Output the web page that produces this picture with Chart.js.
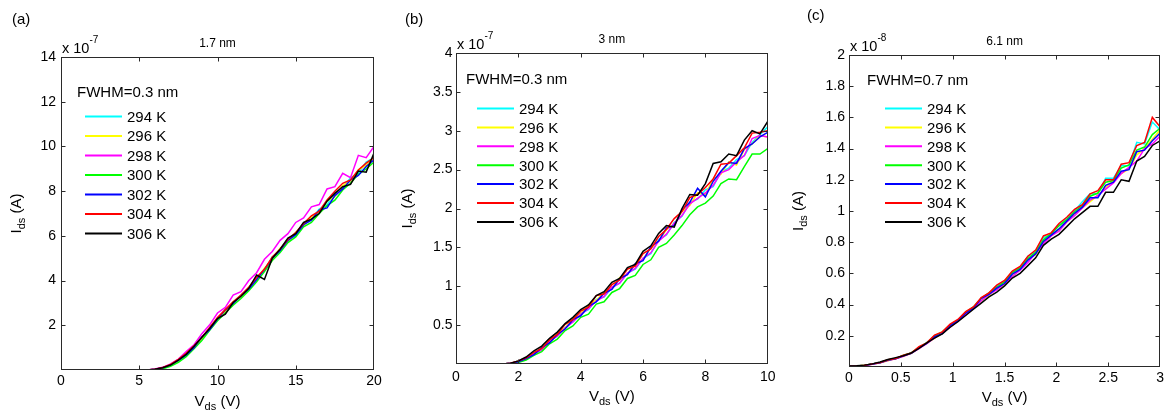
<!DOCTYPE html>
<html>
<head>
<meta charset="utf-8">
<script src="https://cdn.jsdelivr.net/npm/chart.js@4.4.0/dist/chart.umd.min.js"></script>
<style>
body{margin:0;background:#fff;width:1167px;height:411px;position:relative;overflow:hidden}
canvas{position:absolute;top:0}
</style>
</head>
<body>
<canvas id="chartA" width="390" height="411" style="left:0px"></canvas>
<canvas id="chartB" width="390" height="411" style="left:390px"></canvas>
<canvas id="chartC" width="387" height="411" style="left:780px"></canvas>
<script>
// temperaturas e cores (ordem do matlab)
const temps = ['294 K', '296 K', '298 K', '300 K', '302 K', '304 K', '306 K'];
const cores = ['#00ffff', '#ffff00', '#ff00ff', '#00ff00', '#0000ff', '#ff0000', '#000000'];

// (a) 1.7 nm  -- Ids em 1e-7 A
const xA = [0,0.5,1,1.5,2,2.5,3,3.5,4,4.5,5,5.5,6,6.5,7,7.5,8,8.5,9,9.5,10,10.5,11,11.5,12,12.5,13,13.5,14,14.5,15,15.5,16,16.5,17,17.5,18,18.5,19,19.5,20];
const a294 = [0,0,0,0,0,0,0,0,0,0,0, 0,0.02,0.08,0.2,0.4,0.66,1.02,1.4,1.88,2.25, 2.7,2.95,3.35,3.6,4.15,4.45,5.05,5.3,5.85,6.0, 6.55,6.75,7.2,7.4,7.9,8.15,8.6,8.8,9.3,9.5];
const a296 = [0,0,0,0,0,0,0,0,0,0,0, 0,0.03,0.09,0.21,0.41,0.69,1.04,1.42,1.83,2.32, 2.62,3.05,3.28,3.7,4.05,4.55,4.95,5.45,5.75,6.15, 6.45,6.85,7.05,7.55,7.75,8.25,8.45,8.95,9.15,9.55];
const a298 = [0,0,0,0,0,0,0,0,0,0,0, 0,0.04,0.12,0.27,0.49,0.82,1.13,1.62,2.02,2.55, 2.8,3.35,3.5,4.0,4.35,4.95,5.3,5.8,6.1,6.6, 6.8,7.3,7.4,8.1,8.2,8.8,8.6,9.6,9.5,10.0];
const a300 = [0,0,0,0,0,0,0,0,0,0,0, 0,0.01,0.06,0.16,0.34,0.6,0.95,1.32,1.78,2.2, 2.55,2.9,3.2,3.55,3.95,4.4,4.9,5.25,5.7,5.95, 6.4,6.6,7.0,7.35,7.6,8.05,8.35,8.75,9.0,9.3];
const a302 = [0,0,0,0,0,0,0,0,0,0,0, 0,0.03,0.1,0.23,0.43,0.68,1.0,1.48,1.8,2.28, 2.68,2.98,3.32,3.62,4.05,4.5,5.0,5.35,5.8,6.05, 6.5,6.7,7.15,7.25,7.8,8.1,8.5,8.7,9.1,9.4];
const a304 = [0,0,0,0,0,0,0,0,0,0,0, 0,0.03,0.11,0.25,0.48,0.75,1.08,1.45,1.9,2.35, 2.7,3.05,3.35,3.7,4.15,4.5,5.05,5.4,5.85,6.15, 6.55,6.9,7.1,7.6,8.0,8.35,8.5,8.95,9.25,9.5];
const a306 = [0,0,0,0,0,0,0,0,0,0,0, 0,0.03,0.1,0.22,0.44,0.7,1.06,1.46,1.86,2.3, 2.5,3.02,3.3,3.65,4.25,4.05,5.0,5.4,5.9,6.1, 6.6,6.75,7.0,7.55,7.9,8.2,8.3,8.9,8.85,9.7];
const xTicksA = [0,5,10,15,20];
const yTicksA = [2,4,6,8,10,12,14];

// (b) 3 nm  -- Ids em 1e-7 A
const xB = [0,0.25,0.5,0.75,1,1.25,1.5,1.75,2,2.25,2.5,2.75,3,3.25,3.5,3.75,4,4.25,4.5,4.75,5,5.25,5.5,5.75,6,6.25,6.5,6.75,7,7.25,7.5,7.75,8,8.25,8.5,8.75,9,9.25,9.5,9.75,10];
const b294 = [0,0,0,0,0,0,0, 0.01,0.03,0.06,0.13,0.18,0.29,0.36,0.47,0.54,0.65, 0.7,0.83,0.86,0.98,1.04,1.17,1.22,1.36,1.42,1.6, 1.66,1.82,1.9,2.08,2.12,2.24,2.28,2.47,2.52,2.63, 2.68,2.85,2.95,3.05];
const b296 = [0,0,0,0,0,0,0, 0.01,0.03,0.07,0.12,0.21,0.28,0.39,0.46,0.58,0.64, 0.76,0.82,0.92,0.97,1.11,1.16,1.29,1.35,1.49,1.58, 1.73,1.8,1.96,2.04,2.2,2.18,2.38,2.44,2.6,2.56, 2.76,2.83,2.94,2.92];
const b298 = [0,0,0,0,0,0,0, 0.01,0.03,0.06,0.13,0.18,0.29,0.36,0.46,0.54,0.64, 0.71,0.81,0.87,0.99,1.04,1.17,1.23,1.36,1.43,1.58, 1.67,1.81,1.91,2.06,2.13,2.2,2.3,2.46,2.5,2.6, 2.68,2.9,2.94,2.92];
const b300 = [0,0,0,0,0,0,0, 0.0,0.02,0.05,0.11,0.16,0.26,0.32,0.43,0.49,0.6, 0.64,0.77,0.8,0.92,0.97,1.1,1.14,1.28,1.34,1.5, 1.55,1.66,1.78,1.92,2.02,2.07,2.16,2.32,2.38,2.37, 2.54,2.7,2.7,2.77];
const b302 = [0,0,0,0,0,0,0, 0.01,0.03,0.07,0.12,0.21,0.27,0.38,0.45,0.57,0.62, 0.74,0.8,0.91,0.96,1.1,1.15,1.29,1.33,1.51,1.58, 1.75,1.78,1.98,2.08,2.26,2.15,2.35,2.48,2.59,2.58, 2.77,2.83,2.92,2.98];
const b304 = [0,0,0,0,0,0,0, 0.01,0.04,0.08,0.15,0.2,0.31,0.38,0.51,0.57,0.68, 0.73,0.88,0.9,1.02,1.08,1.22,1.26,1.42,1.48,1.64, 1.73,1.87,1.96,2.14,2.18,2.27,2.38,2.57,2.58,2.68, 2.78,2.97,2.98,3.0];
const b306 = [0,0,0,0,0,0,0, 0.01,0.04,0.09,0.17,0.23,0.33,0.41,0.52,0.6,0.7, 0.76,0.88,0.93,1.05,1.1,1.24,1.28,1.45,1.52,1.68, 1.78,1.76,2.0,2.18,2.17,2.32,2.58,2.6,2.7,2.68, 2.88,3.0,2.96,3.12];
const xTicksB = [0,2,4,6,8,10];
const yTicksB = [0.5,1,1.5,2,2.5,3,3.5,4];

// (c) 6.1 nm  -- Ids em 1e-8 A
const xC = [0,0.075,0.15,0.225,0.3,0.375,0.45,0.525,0.6,0.675,0.75,0.825,0.9,0.975,1.05,1.125,1.2,1.275,1.35,1.425,1.5,1.575,1.65,1.725,1.8,1.875,1.95,2.025,2.1,2.175,2.25,2.325,2.4,2.475,2.55,2.625,2.7,2.775,2.85,2.925,3.0];
const c294 = [0.004,0.006,0.01,0.019,0.029,0.045,0.054,0.073,0.088,0.122, 0.156,0.195,0.22,0.268,0.3,0.345,0.38,0.44,0.465,0.52, 0.545,0.61,0.635,0.71,0.74,0.83,0.85,0.91,0.95,1.0, 1.06,1.11,1.11,1.21,1.21,1.29,1.29,1.44,1.43,1.57, 1.52];
const c296 = [0.005,0.006,0.01,0.017,0.027,0.04,0.054,0.068,0.088,0.12, 0.152,0.185,0.22,0.255,0.295,0.335,0.38,0.425,0.46,0.5, 0.53,0.58,0.63,0.69,0.72,0.8,0.84,0.88,0.93,0.98, 1.02,1.06,1.1,1.15,1.2,1.24,1.27,1.36,1.4,1.46, 1.52];
const c298 = [0.005,0.006,0.01,0.018,0.027,0.041,0.053,0.069,0.087,0.118, 0.15,0.186,0.218,0.255,0.296,0.335,0.375,0.425,0.465,0.495, 0.535,0.58,0.62,0.67,0.73,0.79,0.84,0.87,0.93,0.97, 1.02,1.07,1.1,1.14,1.18,1.24,1.28,1.32,1.4,1.43, 1.48];
const c300 = [0.004,0.006,0.011,0.02,0.028,0.045,0.054,0.075,0.09,0.125, 0.155,0.2,0.225,0.27,0.3,0.35,0.385,0.44,0.475,0.51, 0.545,0.605,0.635,0.695,0.735,0.815,0.855,0.905,0.945,0.995, 1.035,1.095,1.115,1.185,1.195,1.275,1.295,1.39,1.41,1.49, 1.53];
const c302 = [0.005,0.006,0.01,0.019,0.027,0.044,0.053,0.072,0.088,0.123, 0.152,0.194,0.214,0.266,0.296,0.345,0.375,0.44,0.465,0.505, 0.535,0.595,0.625,0.685,0.725,0.805,0.845,0.885,0.935,0.985, 1.025,1.085,1.085,1.165,1.185,1.255,1.265,1.38,1.39,1.45, 1.5];
const c304 = [0.005,0.006,0.011,0.02,0.029,0.046,0.055,0.075,0.09,0.13, 0.155,0.205,0.225,0.275,0.305,0.355,0.385,0.445,0.475,0.525, 0.555,0.615,0.645,0.71,0.75,0.84,0.86,0.92,0.96,1.01, 1.04,1.11,1.13,1.2,1.2,1.3,1.31,1.42,1.44,1.6, 1.54];
const c306 = [0.006,0.008,0.012,0.02,0.032,0.048,0.06,0.072,0.09,0.12, 0.155,0.185,0.212,0.255,0.29,0.33,0.37,0.41,0.45,0.48, 0.52,0.57,0.6,0.65,0.7,0.78,0.82,0.85,0.9,0.95, 0.99,1.03,1.03,1.12,1.12,1.2,1.19,1.32,1.35,1.42, 1.45];
const xTicksC = [0,0.5,1,1.5,2,2.5,3];
const yTicksC = [0.2,0.4,0.6,0.8,1,1.2,1.4,1.6,1.8,2];

const FONTE = '"Liberation Sans", Arial, sans-serif';

// cada painel: dados + onde fica cada coisa (coords locais do canvas)
const paineis = [
  {id: 'chartA', xs: xA, series: [a294,a296,a298,a300,a302,a304,a306], xMax: 20, yMax: 14,
   xt: xTicksA, yt: yTicksA, titulo: '1.7 nm', expo: '-7', letra: '(a)', letraX: 12, letraY: 24,
   fwhm: 'FWHM=0.3 nm', fwhmDx: 16, fwhmY: 97, legY: 116.5, legPasso: 19.5, linhaX0: 24, linhaX1: 61, textoDx: 66,
   pad: {left: 0, right: 16, top: 57}, yLarg: 61, xAlt: 41, yPad: 5, xPad: 3, xLabDy: 36, yLabDx: 40},
  {id: 'chartB', xs: xB, series: [b294,b296,b298,b300,b302,b304,b306], xMax: 10, yMax: 4,
   xt: xTicksB, yt: yTicksB, titulo: '3 nm', expo: '-7', letra: '(b)', letraX: 15, letraY: 24,
   fwhm: 'FWHM=0.3 nm', fwhmDx: 10, fwhmY: 84, legY: 108.5, legPasso: 18.9, linhaX0: 21, linhaX1: 58, textoDx: 63,
   pad: {left: 0, right: 11, top: 53}, yLarg: 66, xAlt: 47, yPad: 3.5, xPad: 4.5, xLabDy: 37, yLabDx: 44},
  {id: 'chartC', xs: xC, series: [c294,c296,c298,c300,c302,c304,c306], xMax: 3, yMax: 2,
   xt: xTicksC, yt: yTicksC, titulo: '6.1 nm', expo: '-8', letra: '(c)', letraX: 27, letraY: 20,
   fwhm: 'FWHM=0.7 nm', fwhmDx: 18, fwhmY: 85, legY: 108.5, legPasso: 18.9, linhaX0: 36, linhaX1: 73, textoDx: 78,
   pad: {left: 0, right: 5, top: 55}, yLarg: 69, xAlt: 44, yPad: 4, xPad: 3, xLabDy: 35, yLabDx: 46}
];

// texto com subscrito (tipo V_ds)
function textoSub(ctx, partes, x, y) {
  let w = 0;
  partes.forEach(p => { ctx.font = p.tam + 'px ' + FONTE; w += ctx.measureText(p.t).width; });
  let cx = x - w / 2;
  partes.forEach(p => {
    ctx.font = p.tam + 'px ' + FONTE;
    ctx.fillText(p.t, cx, y + (p.dy || 0));
    cx += ctx.measureText(p.t).width;
  });
}

function enfeites(p) {
  return {
    id: 'enfeites_' + p.id,
    afterDatasetsDraw(chart) {
      const ctx = chart.ctx, ca = chart.chartArea;
      const sx = chart.scales.x, sy = chart.scales.y;
      ctx.save();
      // moldura
      ctx.strokeStyle = '#2a2a2a';
      ctx.lineWidth = 1;
      const L = Math.round(ca.left) + 0.5, R = Math.round(ca.right) - 0.5;
      const T = Math.round(ca.top) + 0.5, B = Math.round(ca.bottom) - 0.5;
      ctx.strokeRect(L, T, R - L, B - T);
      // ticks pra dentro nos 4 lados
      ctx.beginPath();
      p.xt.forEach(v => {
        const px = Math.round(sx.getPixelForValue(v)) + 0.5;
        if (px <= L + 1 || px >= R - 1) return;
        ctx.moveTo(px, B); ctx.lineTo(px, B - 4);
        ctx.moveTo(px, T); ctx.lineTo(px, T + 4);
      });
      p.yt.forEach(v => {
        const py = Math.round(sy.getPixelForValue(v)) + 0.5;
        if (py <= T + 1 || py >= B - 1) return;
        ctx.moveTo(L, py); ctx.lineTo(L + 4, py);
        ctx.moveTo(R, py); ctx.lineTo(R - 4, py);
      });
      ctx.stroke();

      ctx.fillStyle = '#000';
      ctx.textBaseline = 'alphabetic';
      // letra do painel
      ctx.textAlign = 'left';
      ctx.font = '15px ' + FONTE;
      ctx.fillText(p.letra, p.letraX, p.letraY);
      // titulo pequeno
      ctx.textAlign = 'center';
      ctx.font = '12px ' + FONTE;
      ctx.fillText(p.titulo, (ca.left + ca.right) / 2, ca.top - 10);
      // multiplicador x 10^-n
      ctx.textAlign = 'left';
      ctx.font = '14.5px ' + FONTE;
      ctx.fillText('x 10', ca.left + 1, ca.top - 4.5);
      const w10 = ctx.measureText('x 10').width;
      ctx.font = '10px ' + FONTE;
      ctx.fillText(p.expo, ca.left + 1 + w10, ca.top - 14);
      // legenda
      ctx.font = '15px ' + FONTE;
      ctx.fillText(p.fwhm, ca.left + p.fwhmDx, p.fwhmY);
      temps.forEach((t, i) => {
        const y = p.legY + i * p.legPasso;
        ctx.strokeStyle = cores[i];
        ctx.lineWidth = 2;
        ctx.beginPath();
        ctx.moveTo(ca.left + p.linhaX0, y);
        ctx.lineTo(ca.left + p.linhaX1, y);
        ctx.stroke();
        ctx.fillText(t, ca.left + p.textoDx, y + 5.3);
      });
      // rotulos dos eixos
      ctx.textAlign = 'left';
      textoSub(ctx, [{t: 'V', tam: 15}, {t: 'ds', tam: 11, dy: 4}, {t: ' (V)', tam: 15}],
        (ca.left + ca.right) / 2, ca.bottom + p.xLabDy);
      ctx.translate(ca.left - p.yLabDx, (ca.top + ca.bottom) / 2);
      ctx.rotate(-Math.PI / 2);
      textoSub(ctx, [{t: 'I', tam: 15}, {t: 'ds', tam: 11, dy: 4}, {t: ' (A)', tam: 15}], 0, 0);
      ctx.restore();
    }
  };
}

function criaPainel(p) {
  const datasets = p.series.map((s, i) => ({
    label: temps[i],
    data: p.xs.map((x, k) => ({x: x, y: s[k]})),
    borderColor: cores[i],
    backgroundColor: cores[i],
    borderWidth: 1.5,
    pointRadius: 0,
    tension: 0,
    fill: false,
    order: 6 - i
  }));
  return new Chart(document.getElementById(p.id), {
    type: 'line',
    data: {datasets: datasets},
    options: {
      responsive: false,
      animation: false,
      devicePixelRatio: 1,
      layout: {padding: {left: p.pad.left, right: p.pad.right, top: p.pad.top, bottom: 0}, autoPadding: false},
      plugins: {legend: {display: false}, tooltip: {enabled: false}, title: {display: false}},
      scales: {
        x: {
          type: 'linear', min: 0, max: p.xMax,
          afterBuildTicks: s => { s.ticks = p.xt.map(v => ({value: v})); },
          afterFit: s => { s.height = p.xAlt; },
          grid: {display: false, drawTicks: false},
          border: {display: false},
          ticks: {color: '#000', font: {family: FONTE, size: 14}, padding: p.xPad, maxRotation: 0, autoSkip: false,
                  callback: v => String(v)}
        },
        y: {
          type: 'linear', min: 0, max: p.yMax,
          afterBuildTicks: s => { s.ticks = p.yt.map(v => ({value: v})); },
          afterFit: s => { s.width = p.yLarg; },
          grid: {display: false, drawTicks: false},
          border: {display: false},
          ticks: {color: '#000', font: {family: FONTE, size: 14}, padding: p.yPad, autoSkip: false,
                  callback: v => String(v)}
        }
      }
    },
    plugins: [enfeites(p)]
  });
}

paineis.forEach(criaPainel);
</script>
</body>
</html>
